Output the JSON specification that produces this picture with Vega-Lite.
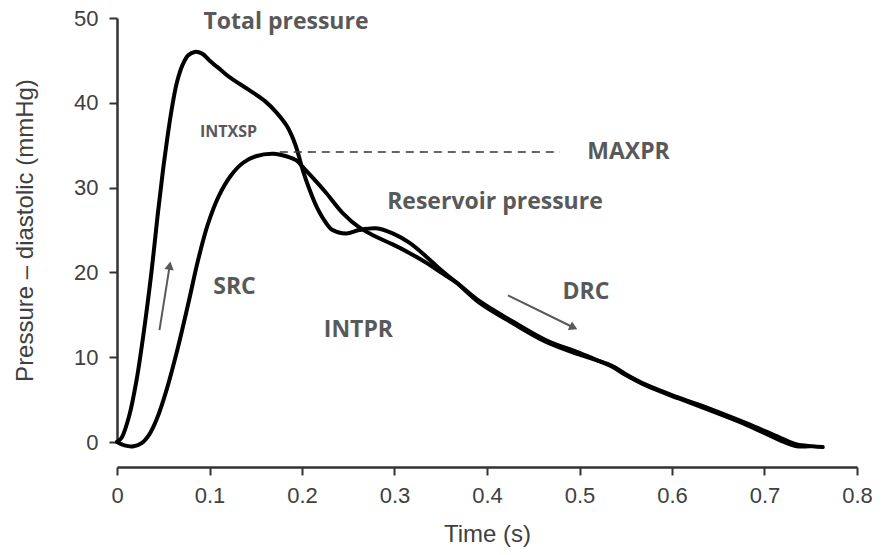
{
  "$schema": "https://vega.github.io/schema/vega-lite/v6.json",
  "width": 740,
  "height": 424,
  "autosize": "none",
  "padding": {"left": 117, "top": 18, "right": 26, "bottom": 113},
  "background": "white",
  "config": {"view": {"stroke": null}},
  "datasets": {
    "curves": [
      {"series": "Total", "t": 0, "p": 0},
      {"series": "Total", "t": 0.005, "p": 0.5},
      {"series": "Total", "t": 0.013, "p": 3.0},
      {"series": "Total", "t": 0.021, "p": 7.2},
      {"series": "Total", "t": 0.029, "p": 13.0},
      {"series": "Total", "t": 0.037, "p": 19.8},
      {"series": "Total", "t": 0.044, "p": 26.8},
      {"series": "Total", "t": 0.05, "p": 32.3},
      {"series": "Total", "t": 0.055, "p": 36.3},
      {"series": "Total", "t": 0.06, "p": 39.8},
      {"series": "Total", "t": 0.065, "p": 42.5},
      {"series": "Total", "t": 0.071, "p": 44.5},
      {"series": "Total", "t": 0.077, "p": 45.6},
      {"series": "Total", "t": 0.084, "p": 46.0},
      {"series": "Total", "t": 0.092, "p": 45.8},
      {"series": "Total", "t": 0.1, "p": 45.0},
      {"series": "Total", "t": 0.112, "p": 43.9},
      {"series": "Total", "t": 0.122, "p": 43.0},
      {"series": "Total", "t": 0.143, "p": 41.5},
      {"series": "Total", "t": 0.16, "p": 40.2},
      {"series": "Total", "t": 0.172, "p": 38.9},
      {"series": "Total", "t": 0.184, "p": 37.2},
      {"series": "Total", "t": 0.193, "p": 35.0},
      {"series": "Total", "t": 0.201, "p": 32.0},
      {"series": "Total", "t": 0.208, "p": 29.8},
      {"series": "Total", "t": 0.216, "p": 27.7},
      {"series": "Total", "t": 0.225, "p": 26.0},
      {"series": "Total", "t": 0.233, "p": 25.0},
      {"series": "Total", "t": 0.248, "p": 24.6},
      {"series": "Total", "t": 0.262, "p": 25.0},
      {"series": "Total", "t": 0.28, "p": 25.2},
      {"series": "Total", "t": 0.298, "p": 24.6},
      {"series": "Total", "t": 0.316, "p": 23.5},
      {"series": "Total", "t": 0.335, "p": 21.8},
      {"series": "Total", "t": 0.35, "p": 20.3},
      {"series": "Total", "t": 0.367, "p": 18.8},
      {"series": "Total", "t": 0.392, "p": 16.4},
      {"series": "Total", "t": 0.428, "p": 14.0},
      {"series": "Total", "t": 0.464, "p": 11.8},
      {"series": "Total", "t": 0.5, "p": 10.3},
      {"series": "Total", "t": 0.52, "p": 9.6},
      {"series": "Total", "t": 0.535, "p": 9.0},
      {"series": "Total", "t": 0.55, "p": 8.0},
      {"series": "Total", "t": 0.573, "p": 6.7},
      {"series": "Total", "t": 0.608, "p": 5.2},
      {"series": "Total", "t": 0.644, "p": 3.8},
      {"series": "Total", "t": 0.681, "p": 2.2},
      {"series": "Total", "t": 0.717, "p": 0.5},
      {"series": "Total", "t": 0.735, "p": -0.3},
      {"series": "Total", "t": 0.752, "p": -0.5},
      {"series": "Total", "t": 0.763, "p": -0.6},
      {"series": "Reservoir", "t": 0, "p": 0},
      {"series": "Reservoir", "t": 0.008, "p": -0.4},
      {"series": "Reservoir", "t": 0.018, "p": -0.5},
      {"series": "Reservoir", "t": 0.027, "p": -0.1},
      {"series": "Reservoir", "t": 0.035, "p": 0.9},
      {"series": "Reservoir", "t": 0.043, "p": 2.7},
      {"series": "Reservoir", "t": 0.054, "p": 6.3},
      {"series": "Reservoir", "t": 0.066, "p": 11.2},
      {"series": "Reservoir", "t": 0.077, "p": 16.3},
      {"series": "Reservoir", "t": 0.088, "p": 21.6},
      {"series": "Reservoir", "t": 0.098, "p": 25.6},
      {"series": "Reservoir", "t": 0.11, "p": 29.0},
      {"series": "Reservoir", "t": 0.123, "p": 31.4},
      {"series": "Reservoir", "t": 0.136, "p": 32.9},
      {"series": "Reservoir", "t": 0.15, "p": 33.7},
      {"series": "Reservoir", "t": 0.169, "p": 34.0},
      {"series": "Reservoir", "t": 0.183, "p": 33.7},
      {"series": "Reservoir", "t": 0.194, "p": 33.2},
      {"series": "Reservoir", "t": 0.201, "p": 32.4},
      {"series": "Reservoir", "t": 0.213, "p": 31.0},
      {"series": "Reservoir", "t": 0.226, "p": 29.4},
      {"series": "Reservoir", "t": 0.244, "p": 27.0},
      {"series": "Reservoir", "t": 0.262, "p": 25.3},
      {"series": "Reservoir", "t": 0.28, "p": 24.2},
      {"series": "Reservoir", "t": 0.298, "p": 23.3},
      {"series": "Reservoir", "t": 0.316, "p": 22.3},
      {"series": "Reservoir", "t": 0.335, "p": 21.1},
      {"series": "Reservoir", "t": 0.35, "p": 20.0},
      {"series": "Reservoir", "t": 0.367, "p": 18.8},
      {"series": "Reservoir", "t": 0.392, "p": 16.6},
      {"series": "Reservoir", "t": 0.428, "p": 14.2},
      {"series": "Reservoir", "t": 0.464, "p": 12.0},
      {"series": "Reservoir", "t": 0.5, "p": 10.5},
      {"series": "Reservoir", "t": 0.52, "p": 9.6},
      {"series": "Reservoir", "t": 0.535, "p": 8.9},
      {"series": "Reservoir", "t": 0.55, "p": 7.9},
      {"series": "Reservoir", "t": 0.573, "p": 6.6},
      {"series": "Reservoir", "t": 0.608, "p": 5.1},
      {"series": "Reservoir", "t": 0.644, "p": 3.6},
      {"series": "Reservoir", "t": 0.681, "p": 2.0},
      {"series": "Reservoir", "t": 0.717, "p": 0.2},
      {"series": "Reservoir", "t": 0.735, "p": -0.5},
      {"series": "Reservoir", "t": 0.748, "p": -0.5}
    ],
    "labels": [
      {"label": "Total pressure", "t": 0.1827, "p": 49.5},
      {"label": "INTXSP", "t": 0.1205, "p": 36.6},
      {"label": "MAXPR", "t": 0.553, "p": 34.2},
      {"label": "Reservoir pressure", "t": 0.4086, "p": 28.3},
      {"label": "SRC", "t": 0.127, "p": 18.3},
      {"label": "INTPR", "t": 0.261, "p": 13.2},
      {"label": "DRC", "t": 0.507, "p": 17.7}
    ],
    "arrows": [
      {"name": "SRC", "t": 0.0459, "p": 13.2, "t2": 0.057, "p2": 20.8, "angle": 8.7},
      {"name": "DRC", "t": 0.4227, "p": 17.3, "t2": 0.4936, "p2": 13.5, "angle": 116.2}
    ],
    "maxpr": [
      {"t": 0.176, "t2": 0.479, "p": 34.2}
    ]
  },
  "layer": [
    {
      "data": {"name": "curves"},
      "mark": {"type": "line", "interpolate": "catmull-rom", "color": "#000000", "strokeWidth": 4, "strokeCap": "round", "strokeJoin": "round"},
      "encoding": {
        "x": {
          "field": "t", "type": "quantitative",
          "scale": {"domain": [0, 0.8], "nice": false, "zero": false},
          "axis": {
            "title": "Time (s)",
            "values": [0, 0.1, 0.2, 0.3, 0.4, 0.5, 0.6, 0.7, 0.8],
            "format": "~g",
            "offset": 25,
            "grid": false,
            "ticks": true,
            "domainColor": "#333333", "domainWidth": 2.5,
            "tickColor": "#333333", "tickWidth": 2, "tickSize": 8,
            "labelFont": "Liberation Sans", "labelFontSize": 22, "labelColor": "#404040",
            "labelPadding": 10, "labelFlush": false,
            "titleFont": "Liberation Sans", "titleFontSize": 24, "titleFontWeight": "normal", "titleColor": "#404040",
            "titlePadding": 16,
            "encode": {"ticks": {"update": {"y2": {"value": -8}}}}
          }
        },
        "y": {
          "field": "p", "type": "quantitative",
          "scale": {"domain": [0, 50], "nice": false, "zero": false},
          "axis": {
            "title": "Pressure – diastolic (mmHg)",
            "values": [0, 10, 20, 30, 40, 50],
            "grid": false,
            "ticks": true,
            "domainColor": "#333333", "domainWidth": 2.5,
            "tickColor": "#333333", "tickWidth": 2, "tickSize": 8,
            "labelFont": "Liberation Sans", "labelFontSize": 22, "labelColor": "#404040",
            "labelPadding": 11,
            "titleFont": "Liberation Sans", "titleFontSize": 24, "titleFontWeight": "normal", "titleColor": "#404040",
            "titlePadding": 36,
            "encode": {"ticks": {"update": {"x2": {"value": 8}}}}
          }
        },
        "detail": {"field": "series"}
      }
    },
    {
      "data": {"name": "maxpr"},
      "mark": {"type": "rule", "color": "#333333", "strokeWidth": 1.5, "strokeDash": [8, 6]},
      "encoding": {
        "x": {"field": "t", "type": "quantitative"},
        "x2": {"field": "t2"},
        "y": {"field": "p", "type": "quantitative"}
      }
    },
    {
      "data": {"name": "arrows"},
      "mark": {"type": "rule", "color": "#595959", "strokeWidth": 2},
      "encoding": {
        "x": {"field": "t", "type": "quantitative"},
        "x2": {"field": "t2"},
        "y": {"field": "p", "type": "quantitative"},
        "y2": {"field": "p2"}
      }
    },
    {
      "data": {"name": "arrows"},
      "mark": {"type": "point", "shape": "triangle-up", "filled": true, "color": "#595959", "size": 90, "opacity": 1},
      "encoding": {
        "x": {"field": "t2", "type": "quantitative"},
        "y": {"field": "p2", "type": "quantitative"},
        "angle": {"field": "angle", "type": "quantitative", "scale": null}
      }
    },
    {
      "data": {"name": "labels"},
      "mark": {"type": "text", "font": "Open Sans", "fontWeight": "bold", "color": "#595959", "align": "center", "baseline": "middle"},
      "encoding": {
        "x": {"field": "t", "type": "quantitative"},
        "y": {"field": "p", "type": "quantitative"},
        "text": {"field": "label"},
        "size": {"condition": {"test": "datum.label === 'INTXSP'", "value": 16}, "value": 23}
      }
    }
  ]
}
